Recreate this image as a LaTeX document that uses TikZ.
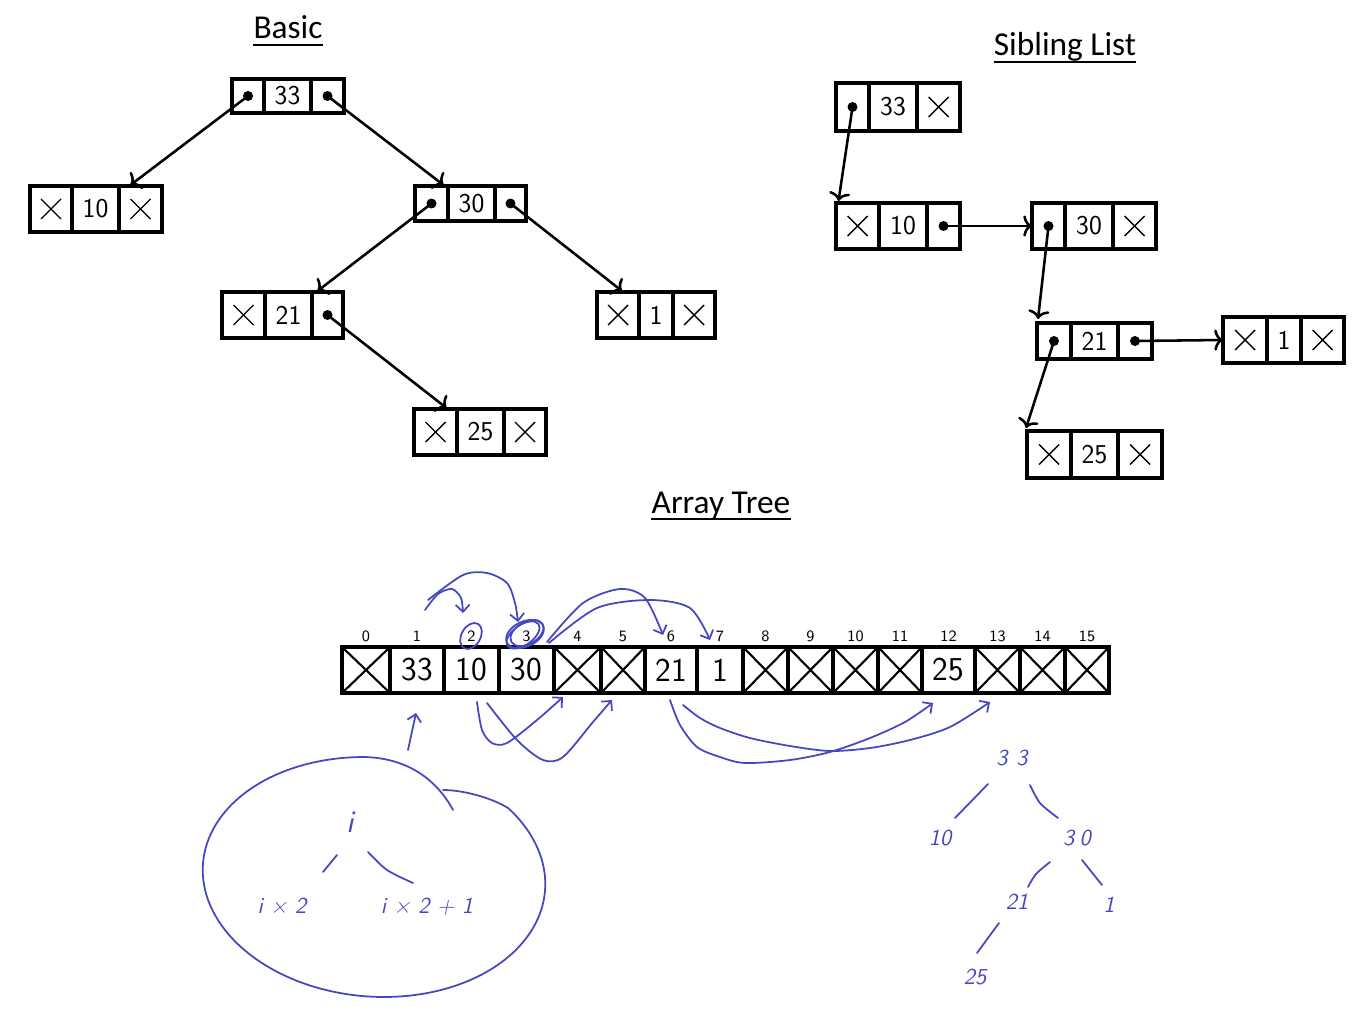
\documentclass[tikz,border=0pt]{standalone}
\usepackage{fontspec}
\newfontfamily\headfont{Carlito}
\usetikzlibrary{arrows.meta}
\definecolor{ink}{RGB}{70,70,195}
\newcommand{\mkcell}[7][]{\node[#1,minimum width={(#5-#3)*0.02cm},minimum height={(#6-#4)*0.02cm}] (#2) at ({(#3+#5)/2},{(#4+#6)/2}) {#7};}
\newcommand{\xmk}[1]{\draw[xmark] ([shift={(-10,-10)}]#1.center) -- ([shift={(10,10)}]#1.center) ([shift={(-10,10)}]#1.center) -- ([shift={(10,-10)}]#1.center);}
\newcommand{\fullx}[1]{\draw[axmark] (#1.north west) -- (#1.south east) (#1.north east) -- (#1.south west);}
\newcommand{\dotc}[1]{\fill (#1.center) circle[radius=0.1cm];}
\tikzset{
  cellbox/.style={draw, line width=1.9pt, inner sep=0pt, outer sep=0pt, font=\sffamily\fontsize{15.5}{15.5}\selectfont},
  acell/.style={draw, line width=2.3pt, inner sep=0pt, outer sep=0pt, font=\sffamily\fontsize{19}{19}\selectfont},
  idx/.style={inner sep=0pt, font=\sffamily\fontsize{9}{9}\selectfont},
  xmark/.style={line width=0.8pt},
  axmark/.style={line width=1.2pt},
  ptr/.style={line width=1.45pt, -{Computer Modern Rightarrow[length=5pt,width=12pt]}},
  heading/.style={inner sep=0pt, font=\headfont\fontsize{19}{19}\selectfont},
  uline/.style={line width=1.1pt},
  hand/.style={draw=ink, line width=1pt, line cap=round, line join=round},
  htip/.style={-{Straight Barb[length=4pt,width=8pt]}},
  htext/.style={text=ink, inner sep=0pt, font=\sffamily\itshape\fontsize{13}{13}\selectfont}
}
\begin{document}
\begin{tikzpicture}[x=0.02cm,y=-0.02cm]
\useasboundingbox (0,0) rectangle (1358,1010);

% ---------- headings ----------
\node[heading, anchor=base] (hbasic) at (288,39) {Basic};
\draw[uline] ([yshift=-0.12cm]hbasic.base west) -- ([yshift=-0.12cm]hbasic.base east);
\node[heading, anchor=base] (hsib) at (1065,56) {Sibling List};
\draw[uline] ([yshift=-0.12cm]hsib.base west) -- ([yshift=-0.12cm]hsib.base east);
\node[heading, anchor=base] (harr) at (721,513) {Array Tree};
\draw[uline] ([yshift=-0.12cm]harr.base west) -- ([yshift=-0.12cm]harr.base east);

% ---------- Basic tree ----------
\mkcell[cellbox]{b33L}{232}{79}{264}{113}{}
\mkcell[cellbox]{b33M}{264}{79}{311}{113}{33}
\mkcell[cellbox]{b33R}{311}{79}{344}{113}{}
\dotc{b33L}\dotc{b33R}

\mkcell[cellbox]{b10L}{30}{186}{72}{232}{}
\mkcell[cellbox]{b10M}{72}{186}{119}{232}{10}
\mkcell[cellbox]{b10R}{119}{186}{162}{232}{}
\xmk{b10L}\xmk{b10R}

\mkcell[cellbox]{b30L}{415}{186}{448}{221}{}
\mkcell[cellbox]{b30M}{448}{186}{495}{221}{30}
\mkcell[cellbox]{b30R}{495}{186}{526}{221}{}
\dotc{b30L}\dotc{b30R}

\mkcell[cellbox]{b21L}{222}{292}{265}{338}{}
\mkcell[cellbox]{b21M}{265}{292}{312}{338}{21}
\mkcell[cellbox]{b21R}{312}{292}{343}{338}{}
\xmk{b21L}\dotc{b21R}

\mkcell[cellbox]{b1L}{597}{292}{639}{338}{}
\mkcell[cellbox]{b1M}{639}{292}{673}{338}{1}
\mkcell[cellbox]{b1R}{673}{292}{715}{338}{}
\xmk{b1L}\xmk{b1R}

\mkcell[cellbox]{b25L}{414}{409}{457}{455}{}
\mkcell[cellbox]{b25M}{457}{409}{504}{455}{25}
\mkcell[cellbox]{b25R}{504}{409}{546}{455}{}
\xmk{b25L}\xmk{b25R}

\draw[ptr] (b33L.center) -- ([shift={(-10,-1)}]b10R.north);
\draw[ptr] (b33R.center) -- ([shift={(12,-1)}]b30L.north);
\draw[ptr] (b30L.center) -- ([shift={(-10,-1)}]b21R.north);
\draw[ptr] (b30R.center) -- ([shift={(4,-1)}]b1L.north);
\draw[ptr] (b21R.center) -- ([shift={(11,-1)}]b25L.north);

% ---------- Sibling list ----------
\mkcell[cellbox]{s33L}{836}{83}{869}{131}{}
\mkcell[cellbox]{s33M}{869}{83}{917}{131}{33}
\mkcell[cellbox]{s33R}{917}{83}{960}{131}{}
\dotc{s33L}\xmk{s33R}

\mkcell[cellbox]{s10L}{836}{203}{879}{249}{}
\mkcell[cellbox]{s10M}{879}{203}{927}{249}{10}
\mkcell[cellbox]{s10R}{927}{203}{960}{249}{}
\xmk{s10L}\dotc{s10R}

\mkcell[cellbox]{s30L}{1032}{203}{1065}{249}{}
\mkcell[cellbox]{s30M}{1065}{203}{1113}{249}{30}
\mkcell[cellbox]{s30R}{1113}{203}{1156}{249}{}
\dotc{s30L}\xmk{s30R}

\mkcell[cellbox]{s21L}{1037}{323}{1071}{359}{}
\mkcell[cellbox]{s21M}{1071}{323}{1118}{359}{21}
\mkcell[cellbox]{s21R}{1118}{323}{1152}{359}{}
\dotc{s21L}\dotc{s21R}

\mkcell[cellbox]{s1L}{1223}{317}{1267}{363}{}
\mkcell[cellbox]{s1M}{1267}{317}{1301}{363}{1}
\mkcell[cellbox]{s1R}{1301}{317}{1344}{363}{}
\xmk{s1L}\xmk{s1R}

\mkcell[cellbox]{s25L}{1027}{431}{1071}{478}{}
\mkcell[cellbox]{s25M}{1071}{431}{1118}{478}{25}
\mkcell[cellbox]{s25R}{1118}{431}{1162}{478}{}
\xmk{s25L}\xmk{s25R}

\draw[ptr] (s33L.center) -- ([shift={(-19,-2)}]s10L.north);
\draw[ptr] (s10R.center) -- (s30L.west);
\draw[ptr] (s30L.center) -- ([shift={(-16,-4)}]s21L.north);
\draw[ptr] (s21R.center) -- (s1L.west);
\draw[ptr] (s21L.center) -- ([shift={(-23,-3)}]s25L.north);

% ---------- Array tree ----------
\foreach \n/\a/\b/\t in {0/342/390/,1/390/444/33,2/444/499/10,3/499/554/30,4/554/601/,5/601/645/,6/645/697/21,7/697/743/1,8/743/788/,9/788/833/,10/833/878/,11/878/922/,12/922/975/25,13/975/1020/,14/1020/1065/,15/1065/1109/}{
  \mkcell[acell]{a\n}{\a}{647}{\b}{693}{\t}
  \node[idx, anchor=base] (i\n) at ([yshift=0.12cm]a\n.north) {\n};
}
\foreach \n in {0,4,5,8,9,10,11,13,14,15}{\fullx{a\n}}

% ---------- handwritten annotations ----------
% 1 -> 2, 3
\draw[hand,htip] plot[smooth] coordinates {(425,610) (438,594) (452,589) (461,598) (463,613)};
\draw[hand,htip] plot[smooth] coordinates {(428,600) (463,575) (487,573) (507,583) (515,603) (518,622)};
% circles round 2 and 3
\draw[hand, rotate around={60:(471,636)}] (471,636) ellipse [x radius=0.28cm, y radius=0.19cm];
\draw[hand, rotate around={25:(525,634)}] (525,634) ellipse [x radius=0.40cm, y radius=0.25cm];
\draw[hand, rotate around={30:(527,633)}] (527,633) ellipse [x radius=0.36cm, y radius=0.22cm];
\draw[hand, rotate around={35:(523,635)}] (523,635) ellipse [x radius=0.38cm, y radius=0.2cm];
% 3 -> 6, 7
\draw[hand,htip] plot[smooth] coordinates {(547,642) (583,603) (620,589) (645,598) (663,635)};
\draw[hand,htip] plot[smooth] coordinates {(549,643) (597,608) (650,600) (690,608) (710,640)};
% 2 -> 4, 5
\draw[hand,htip] plot[smooth] coordinates {(477,702) (482,730) (492,743) (507,743) (537,720) (563,697)};
\draw[hand,htip] plot[smooth] coordinates {(487,703) (517,740) (543,760) (563,757) (593,722) (612,700)};
% 6 -> 12, 13
\draw[hand,htip] plot[smooth] coordinates {(670,700) (680,725) (697,747) (720,757) (745,763) (790,760) (830,752) (870,738) (905,722) (933,703)};
\draw[hand,htip] plot[smooth] coordinates {(683,705) (700,718) (720,728) (750,738) (790,746) (830,751) (870,748) (910,740) (950,727) (990,702)};
% arrow up to 33
\draw[hand,htip] (408,750) -- (416,713);

% big loop
\draw[hand] (453,810) .. controls (438,782) and (410,758) .. (364,757)
  -- plot[domain=90:395, samples=80, smooth] ({374+171*cos(\x)-10*sin(\x)},{877-120*sin(\x)})
  .. controls (490,797) and (462,790) .. (443,790);
\node[htext, font=\sffamily\itshape\fontsize{18}{18}\selectfont] (hi) at (350,822) {i};
\draw[hand] (337,855) -- (323,872);
\draw[hand] plot[smooth] coordinates {(368,852) (387,870) (413,883)};
\node[htext] (hi2) at (282,906) {i × 2};
\node[htext] (hi21) at (427,907) {i × 2 + 1};

% small tree
\node[htext] (t33) at (1012,758) {3\hspace{5pt}3};
\node[htext] (t10) at (940,838) {10};
\node[htext] (t30) at (1077,838) {3\hspace{3pt}0};
\node[htext] (t21) at (1017,902) {21};
\node[htext] (t1) at (1109,905) {1};
\node[htext] (t25) at (975,977) {25};
\draw[hand] (988,784) -- (955,818);
\draw[hand] plot[smooth] coordinates {(1030,785) (1040,803) (1058,818)};
\draw[hand] plot[smooth] coordinates {(1050,862) (1036,874) (1028,887)};
\draw[hand] (1082,860) -- (1102,885);
\draw[hand] (999,923) -- (977,953);
\end{tikzpicture}
\end{document}
